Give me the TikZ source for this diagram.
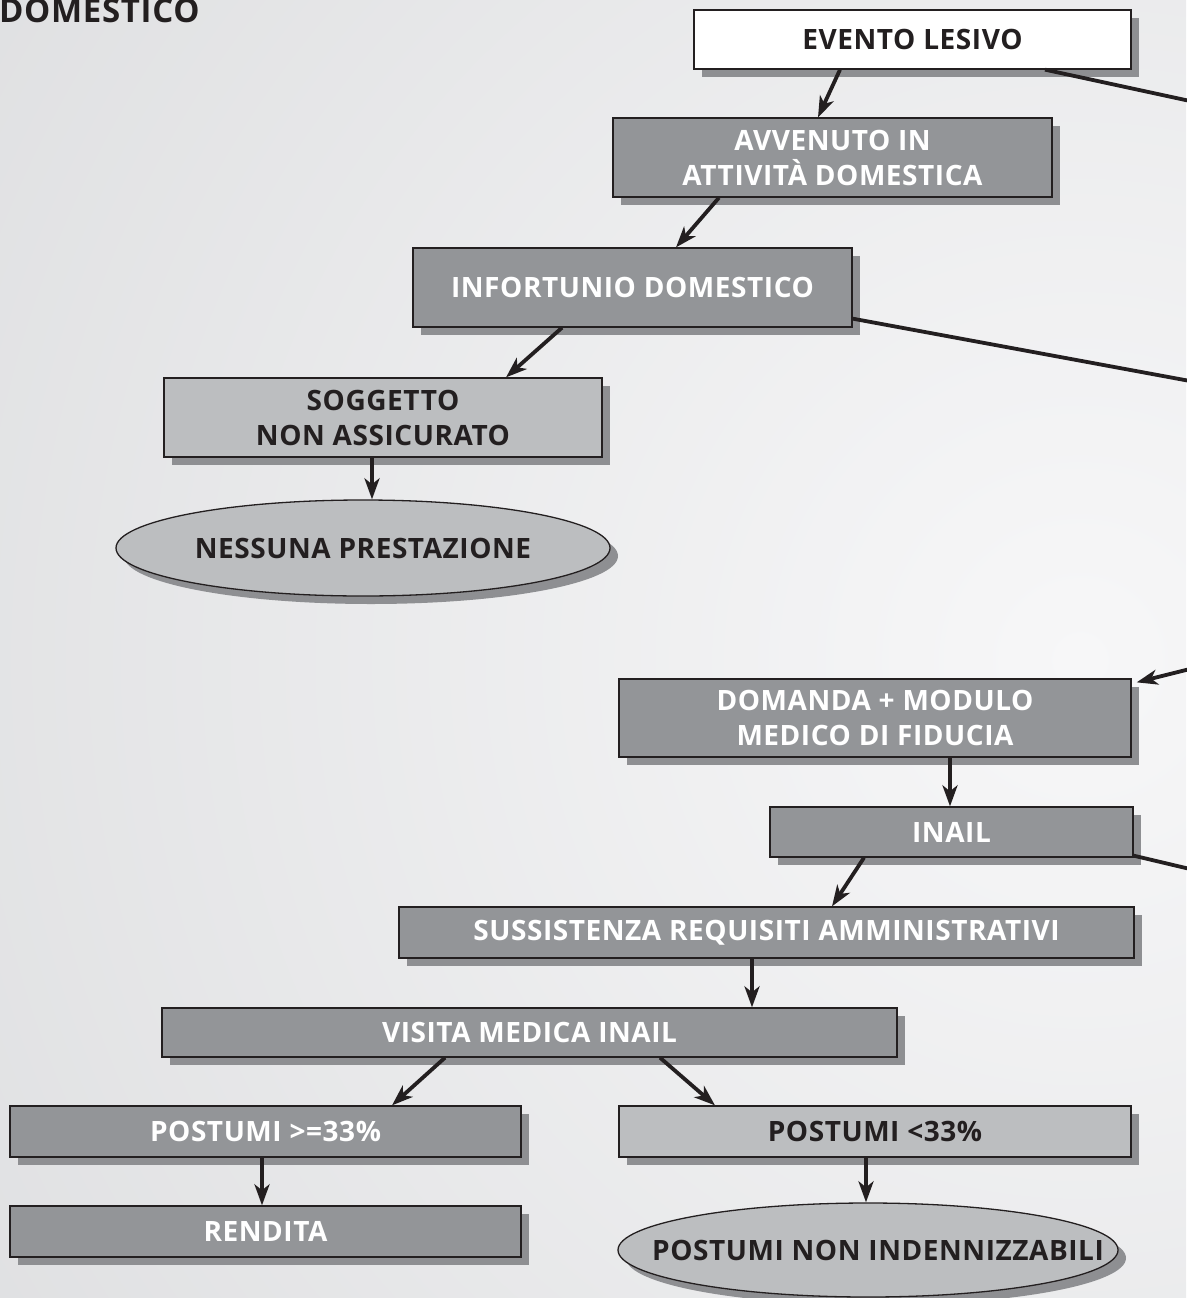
\documentclass[tikz,border=0pt]{standalone}
\usepackage{fontspec}
\setmainfont{Open Sans}[LetterSpace=2]
\usetikzlibrary{arrows.meta,shapes.geometric,shadows,calc}
\definecolor{boxdark}{HTML}{939598}
\definecolor{boxlight}{HTML}{BCBEC0}
\definecolor{shadowc}{HTML}{8E8F92}
\definecolor{txtdark}{HTML}{231F20}
\definecolor{bgout}{HTML}{D8D9DB}
\definecolor{bgin}{HTML}{F7F7F8}
\begin{document}
\begin{tikzpicture}[x=1pt,y=-1pt,
  shad/.style={drop shadow={shadow xshift=8pt,shadow yshift=-8pt,fill=shadowc,opacity=1}},
  txtfont/.style={font=\fontsize{28}{35}\selectfont\bfseries},
  basebox/.style={rectangle,draw=txtdark,line width=1.3pt,inner sep=0pt,align=center,txtfont,shad},
  darkbox/.style={basebox,fill=boxdark,text=white},
  lightbox/.style={basebox,fill=boxlight,text=txtdark},
  whitebox/.style={basebox,fill=white,text=txtdark},
  oval/.style={ellipse,draw=txtdark,line width=1.3pt,inner sep=0pt,fill=boxlight,shad},
  ovaltext/.style={inner sep=0pt,text=txtdark,txtfont},
  arr/.style={line width=3.8pt,draw=txtdark,-{Stealth[length=21pt,width=15pt,inset=6pt]}},
  ln/.style={line width=3.8pt,draw=txtdark}
]
\useasboundingbox (0,0) rectangle (1186,1298);
\begin{scope}
\clip (0,0) rectangle (1186,1298);
\fill[bgout] (0,0) rectangle (1186,1298);
\shade[inner color=bgin,outer color=bgout] (1080,660) circle (1700);
\end{scope}

\node[anchor=base west,inner sep=0pt,text=txtdark,font=\fontsize{33}{33}\selectfont\bfseries] (title) at (-1,23) {DOMESTICO};

\node[whitebox,minimum width=437pt,minimum height=59pt] (evento) at (912.5,39.5) {EVENTO LESIVO};
\node[darkbox,minimum width=439pt,minimum height=79pt] (avv) at (832.5,157.5) {AVVENUTO IN\\ATTIVITÀ DOMESTICA};
\node[darkbox,minimum width=439pt,minimum height=79pt] (inf) at (632.5,287.5) {INFORTUNIO DOMESTICO};
\node[lightbox,minimum width=438pt,minimum height=79pt] (sog) at (383,417.5) {SOGGETTO\\NON ASSICURATO};
\node[oval,minimum width=494pt,minimum height=96pt] (nes) at (363,548) {};
\node[ovaltext] (nest) at (nes.center) {NESSUNA PRESTAZIONE};
\node[darkbox,minimum width=512pt,minimum height=78pt] (dom) at (875,718) {DOMANDA + MODULO\\MEDICO DI FIDUCIA};
\node[darkbox,minimum width=363pt,minimum height=50pt] (inail) at (951.5,832) {INAIL};
\node[darkbox,minimum width=735pt,minimum height=51pt] (suss) at (766.5,932.5) {SUSSISTENZA REQUISITI AMMINISTRATIVI};
\node[darkbox,minimum width=735pt,minimum height=49pt] (vis) at (529.5,1032.5) {VISITA MEDICA INAIL};
\node[darkbox,minimum width=511pt,minimum height=51pt] (pge) at (265.5,1131.5) {POSTUMI >=33\%};
\node[lightbox,minimum width=512pt,minimum height=51pt] (plt) at (875,1131.5) {POSTUMI <33\%};
\node[darkbox,minimum width=511pt,minimum height=51pt] (rend) at (265.5,1231.5) {RENDITA};
\node[oval,minimum width=500pt,minimum height=94pt] (pni) at (868,1250) {};
\node[ovaltext] (pnit) at ([xshift=10pt]pni.center) {POSTUMI NON INDENNIZZABILI};

\coordinate (e1) at (1190,101);
\coordinate (e2) at (1190,381);
\coordinate (e3) at (1190,669);
\coordinate (e4) at (1190,869);

\draw[arr] ([xshift=-72.5pt]evento.south) -- ([xshift=-14.5pt]avv.north);
\draw[arr] ([xshift=-113.5pt]avv.south) -- ([xshift=43.5pt]inf.north);
\draw[arr] ([xshift=-70.5pt]inf.south) -- ([xshift=123pt]sog.north);
\draw[arr] ([xshift=-11pt]sog.south) -- ([xshift=-11pt]sog.south |- nes.north);
\draw[arr] ([xshift=75pt]dom.south) -- ([xshift=75pt]dom.south |- inail.north);
\draw[arr] ([xshift=-87.5pt]inail.south) -- ([xshift=65.5pt]suss.north);
\draw[arr] ([xshift=-14.5pt]suss.south) -- ([xshift=-14.5pt]suss.south |- vis.north);
\draw[arr] ([xshift=-84.5pt]vis.south) -- ([xshift=126.5pt]pge.north);
\draw[arr] ([xshift=130.5pt]vis.south) -- ([xshift=-160pt]plt.north);
\draw[arr] ([xshift=-3.5pt]pge.south) -- ([xshift=-3.5pt]pge.south |- rend.north);
\draw[arr] ([xshift=-9pt]plt.south) -- ([xshift=-9pt]plt.south |- pni.north);

\draw[ln] ([xshift=132.5pt]evento.south) -- (e1);
\draw[ln] ([yshift=9pt]inf.south east) -- (e2);
\draw[arr] (e3) -- ([xshift=5pt,yshift=-4pt]dom.north east);
\draw[ln] ([yshift=2pt]inail.south east) -- (e4);
\end{tikzpicture}
\end{document}
